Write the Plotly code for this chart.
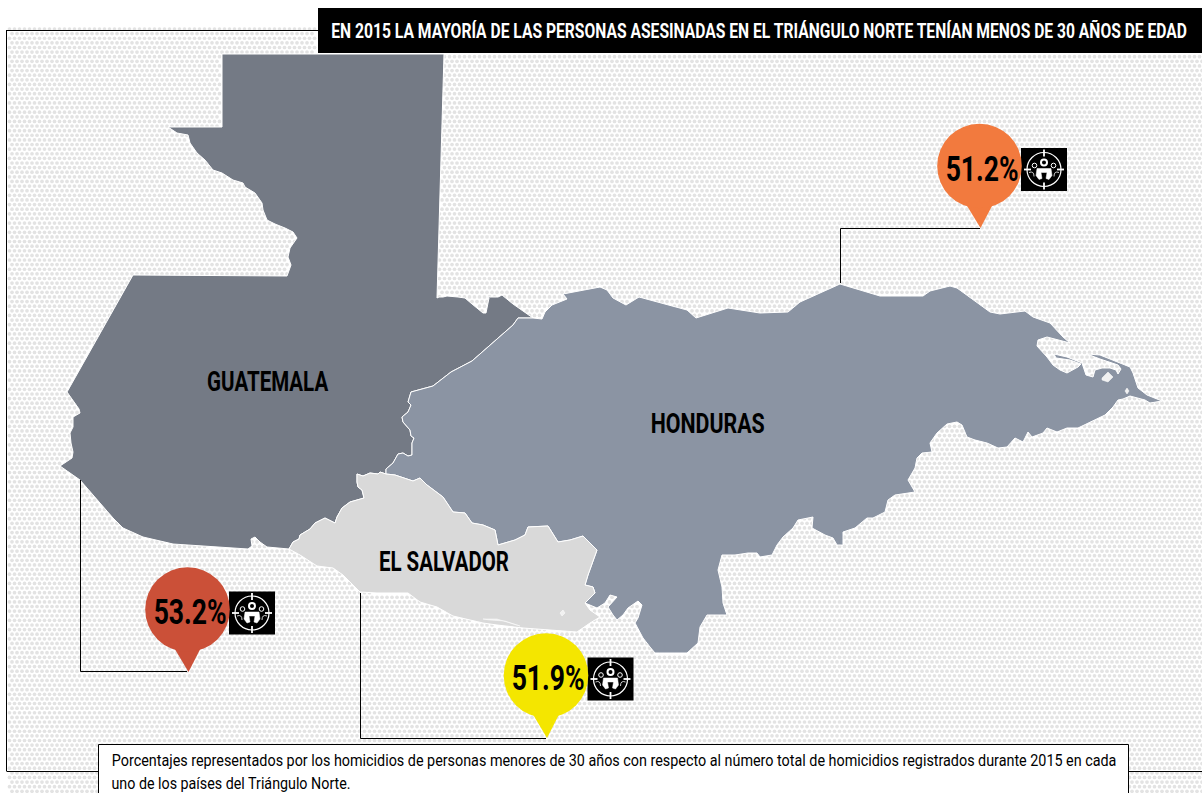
import json
import numpy as np
import plotly.graph_objects as go

# ---------- data: country outlines ----------
guatemala_x = [222,444,437,439,443,447,458,465,472,483,486,489,487,498,502,513,533,518,513,472,451,433,411,408,411,408,402,403,410,411,414,412,412,408,403,398,393,386,386,380,378,370,363,357,357,358,362,364,350,342,337,335,325,315,310,300,299,293,289,267,260,255,251,252,248,213,173,143,123,113,100,80,60,72,73,71,70,73,73,80,79,67,133,287,291,288,290,297,293,285,275,267,263,262,255,245,243,233,222,213,205,197,190,188,177,168,222]
guatemala_y = [54,54,298,297,297,296,297,298,304,313,313,298,297,297,295,304,318,318,325,361,372,386,392,402,405,412,417,422,430,436,438,443,455,456,453,454,463,469,474,472,474,473,476,474,482,487,490,498,502,508,517,523,518,523,529,535,539,542,549,547,542,537,539,546,549,547,544,537,528,518,503,480,466,458,452,443,433,427,417,413,409,392,275,276,265,257,248,238,232,228,224,220,210,203,193,187,183,180,173,170,160,153,143,135,133,127,127]

honduras_x = [386,386,393,398,403,408,412,412,414,411,410,403,402,408,411,408,411,433,451,472,513,518,533,542,545,552,567,563,600,607,613,626,639,687,696,728,760,780,788,800,840,860,880,923,930,950,957,990,1000,1025,1033,1050,1063,1070,1047,1038,1037,1047,1053,1060,1067,1078,1081,1070,1056,1054,1067,1082,1086,1093,1095,1102,1110,1116,1118,1121,1118,1100,1087,1100,1115,1130,1133,1138,1147,1162,1150,1145,1130,1123,1118,1113,1105,1090,1078,1067,1057,1047,1043,1032,1028,1023,1015,1007,998,987,975,967,962,957,947,937,930,932,922,917,915,908,915,895,888,885,873,867,855,843,843,837,833,825,812,813,798,793,783,777,772,760,757,748,735,722,718,722,723,727,713,707,700,698,687,655,650,643,635,638,642,638,628,623,617,613,608,617,610,605,597,585,595,593,585,588,597,592,583,570,558,548,528,525,515,498,495,483,472,465,453,443,427,420,413,395]
honduras_y = [474,469,463,454,453,456,455,443,438,436,430,422,417,412,405,402,392,386,372,361,325,318,318,319,312,305,299,294,287,290,298,305,297,310,318,308,313,312,312,302,284,290,296,296,291,286,288,312,314,311,317,323,337,343,337,340,346,357,365,370,373,367,364,360,358,354,357,363,375,377,370,368,368,370,374,369,365,359,354,355,361,367,373,388,395,401,403,400,396,399,400,407,415,422,428,428,432,428,433,437,432,442,438,447,448,443,440,437,425,422,424,433,443,452,453,458,468,480,492,495,500,512,518,518,528,532,545,545,538,535,528,517,520,528,537,545,555,557,553,553,555,555,570,587,603,615,615,615,627,643,653,653,647,638,623,618,605,601,608,615,620,615,607,597,595,603,608,603,593,587,585,575,550,545,536,540,542,526,527,535,540,545,530,525,523,513,512,497,485,478,481,475]

el_salvador_x = [386,395,413,420,427,443,453,465,472,483,495,498,515,525,528,548,558,570,583,592,597,588,585,593,595,585,590,600,590,577,523,497,483,453,437,420,408,377,360,343,333,317,300,289,293,299,300,310,315,325,335,337,342,350,364,362,358,357,357,363,370,378,380]
el_salvador_y = [474,475,481,478,485,497,512,513,523,525,530,545,540,535,527,526,542,540,536,545,550,575,585,587,593,603,610,617,623,632,628,625,623,616,607,602,593,593,592,575,568,566,555,549,542,539,535,529,523,518,523,517,508,502,498,490,487,482,474,476,473,474,472]

# little lagoons and islands that let the dotted ground show through
lagoon_x = [[1102,1108,1113,1108,1102],[1125,1127,1129,1127],[560,563,565,562],[483,497,510,520,505,490]]
lagoon_y = [[378,372,377,382,380],[391,388,391,394],[613,610,613,616],[619,619,623,626,621,620]]

country_labels = ["GUATEMALA", "HONDURAS", "EL SALVADOR"]
country_label_x = [267.5, 707, 444]
country_label_y = [381, 423, 561]
country_label_w = [121, 114, 130]

pin_values = ["51.2%", "53.2%", "51.9%"]
pin_colors = ["#f27a3e", "#cb5038", "#f4e600"]
pin_cx = [979.5, 187.5, 546]
pin_cy = [166, 609.5, 675.5]
pin_tip_y = [228, 672, 738]
pin_text_w = 73

leader_x = [[840.5,840.5,980], [80.5,80.5,187], [360.5,360.5,546]]
leader_y = [[283,228.5,228.5], [480,671.5,671.5], [593,738.5,738.5]]

title = "EN 2015 LA MAYORÍA DE LAS PERSONAS ASESINADAS EN EL TRIÁNGULO NORTE TENÍAN MENOS DE 30 AÑOS DE EDAD"
title_w = 856
note_lines = ["Porcentajes representados por los homicidios de personas menores de 30 años con respecto al número total de homicidios registrados durante 2015 en cada",
              "uno de los países del Triángulo Norte."]
note_w = [1005, 239]

FONT = "Roboto"
GUAT, HOND, SALV = "#747a85", "#8b94a3", "#d9d9d9"

# ---------- dotted ground (texture, not data) ----------
def inside(px, py, xs, ys):
    xs, ys = np.array(xs, float), np.array(ys, float)
    xn, yn = np.roll(xs, -1), np.roll(ys, -1)
    res = np.zeros(px.shape, bool)
    for a, b, c, d in zip(xs, ys, xn, yn):
        if b == d:
            continue
        cond = (b > py) != (d > py)
        res ^= cond & (px < (c - a) * (py - b) / (d - b) + a)
    return res

rows = np.arange(29, 793, 4.62)
dx, dy = [], []
for i, ry in enumerate(rows):
    xr = np.arange(9.5 + (2.5 if i % 2 else 0), 1203, 5.0)
    dx.append(xr); dy.append(np.full(xr.shape, ry))
dx, dy = np.concatenate(dx), np.concatenate(dy)
mask = inside(dx, dy, guatemala_x, guatemala_y) | inside(dx, dy, honduras_x, honduras_y) | inside(dx, dy, el_salvador_x, el_salvador_y)
mask |= (dy < 54) & (dx > 316)
dx, dy = dx[~mask], dy[~mask]

fig = go.Figure()
fig.add_trace(go.Scatter(x=dx, y=dy, mode="markers", marker=dict(symbol="circle", size=3.7, color="#e3e3e3", line=dict(width=0)), hoverinfo="skip"))

for xs, ys, col in [(guatemala_x, guatemala_y, GUAT), (honduras_x, honduras_y, HOND), (el_salvador_x, el_salvador_y, SALV)]:
    fig.add_trace(go.Scatter(x=xs + xs[:1], y=ys + ys[:1], mode="lines", fill="toself", fillcolor=col,
                             line=dict(color="#ffffff", width=1), hoverinfo="skip"))
for xs, ys in zip(lagoon_x, lagoon_y):
    fig.add_trace(go.Scatter(x=xs + xs[:1], y=ys + ys[:1], mode="lines", fill="toself", fillcolor="#f1f1f1",
                             line=dict(color="#ffffff", width=0.5), hoverinfo="skip"))
for xs, ys in zip(leader_x, leader_y):
    fig.add_trace(go.Scatter(x=xs, y=ys, mode="lines", line=dict(color="#000000", width=1), hoverinfo="skip"))

# ---------- frame ----------
shapes = []
def line(x0, y0, x1, y1, color="#000000", width=1):
    shapes.append(dict(type="line", x0=x0, y0=y0, x1=x1, y1=y1, line=dict(color=color, width=width), layer="above"))
def rect(x0, y0, x1, y1, fill, lc=None, width=0):
    shapes.append(dict(type="rect", x0=x0, y0=y0, x1=x1, y1=y1, fillcolor=fill, line=dict(color=lc or fill, width=width), layer="above"))
def circle(cx, cy, r, fill="rgba(0,0,0,0)", lc="#ffffff", width=1):
    shapes.append(dict(type="circle", x0=cx-r, y0=cy-r, x1=cx+r, y1=cy+r, fillcolor=fill, line=dict(color=lc, width=width), layer="above"))
def path(d, fill="rgba(0,0,0,0)", lc="#ffffff", width=1):
    shapes.append(dict(type="path", path=d, fillcolor=fill, line=dict(color=lc, width=width), layer="above"))

line(6.5, 30.5, 320, 30.5)
line(6.5, 30, 6.5, 771)
line(6.5, 771.5, 98, 771.5)
line(1128, 771.5, 1202, 771.5)
rect(318, 8, 1202, 53, "#000000")
rect(98.5, 744.5, 1128.5, 800, "#ffffff", "#000000", 1)

# ---------- pins and icon ----------
def icon(cx, cy):
    rect(cx-23, cy-21.5, cx+23, cy+21.5, "#000000")
    c, d = cx, cy
    circle(c, d, 17, width=1.2)
    for a, b, e, f in [(0,-20,0,-13),(0,13,0,20),(-20,0,-13,0),(13,0,20,0)]:
        line(c+a, d+b, c+e, d+f, "#ffffff", 1.8)
    circle(c, d-7, 3, width=2)
    circle(c-9.5, d-4, 2.3, width=1)
    circle(c+9.5, d-4, 2.3, width=1)
    path(f"M{c-7},{d-1} L{c+7},{d-1} L{c+8},{d+6} L{c+5},{d+10} L{c+2},{d+9} L{c+3},{d+3} L{c-3},{d+3} L{c-2},{d+9} L{c-5},{d+10} L{c-8},{d+6} Z", fill="#ffffff", lc="#ffffff", width=0.5)
    path(f"M{c-15},{d+3} Q{c-10},{d+1} {c-10},{d+7}", width=0.8)
    path(f"M{c+15},{d+3} Q{c+10},{d+1} {c+10},{d+7}", width=0.8)

annotations = []
widths = {}
def label(x, y, text, size, color, weight, w):
    annotations.append(dict(x=x, y=y, text=text, showarrow=False, xanchor="center", yanchor="middle",
                            font=dict(family=FONT, size=size, color=color, weight=weight)))
    widths[text] = w

for val, col, cx, cy, tip in zip(pin_values, pin_colors, pin_cx, pin_cy, pin_tip_y):
    icon(cx + 64.5, cy + 3.5)
    path(f"M{cx-13},{cy+39} L{cx+1},{tip} L{cx+13},{cy+39} Z", fill=col, lc=col, width=0)
    circle(cx, cy, 42.3, fill=col, lc=col, width=0)
    label(cx + 2, cy + 3, val, 35, "#000000", 700, pin_text_w)

for t, x, y, w in zip(country_labels, country_label_x, country_label_y, country_label_w):
    label(x, y, t, 28, "#000000", 700, w)

label(759, 31, title, 20, "#ffffff", 700, title_w)
label(613.5, 760, note_lines[0], 16, "#000000", 400, note_w[0])
label(230.5, 783, note_lines[1], 16, "#000000", 400, note_w[1])

fig.update_layout(
    width=1202, height=793, margin=dict(l=0, r=0, t=0, b=0),
    paper_bgcolor="#ffffff", plot_bgcolor="#ffffff", showlegend=False, hovermode=False,
    xaxis=dict(range=[0, 1202], visible=False, fixedrange=True),
    yaxis=dict(range=[793, 0], visible=False, fixedrange=True),
    shapes=shapes, annotations=annotations,
)
# No condensed font is installed, so each text is condensed horizontally to its measured width.
squeeze = """
document.body.style.margin='0';document.body.style.overflow='hidden';
var W = %s;
function squeeze(){
  document.querySelectorAll('text.annotation-text').forEach(function(t){
    var w = W[t.textContent];
    if (!w) return;
    var n = t.getComputedTextLength();
    var x = parseFloat(t.getAttribute('x')) || 0;
    if (n > 0) t.setAttribute('transform', 'translate(' + x + ',0) scale(' + (w / n) + ',1) translate(' + (-x) + ',0)');
  });
}
squeeze();
var gd = document.getElementById('{plot_id}');
if (gd && gd.on) gd.on('plotly_afterplot', squeeze);
setTimeout(squeeze, 50);
""" % json.dumps(widths, ensure_ascii=False)
fig.write_html("out.html", config=dict(displayModeBar=False), post_script=squeeze)
